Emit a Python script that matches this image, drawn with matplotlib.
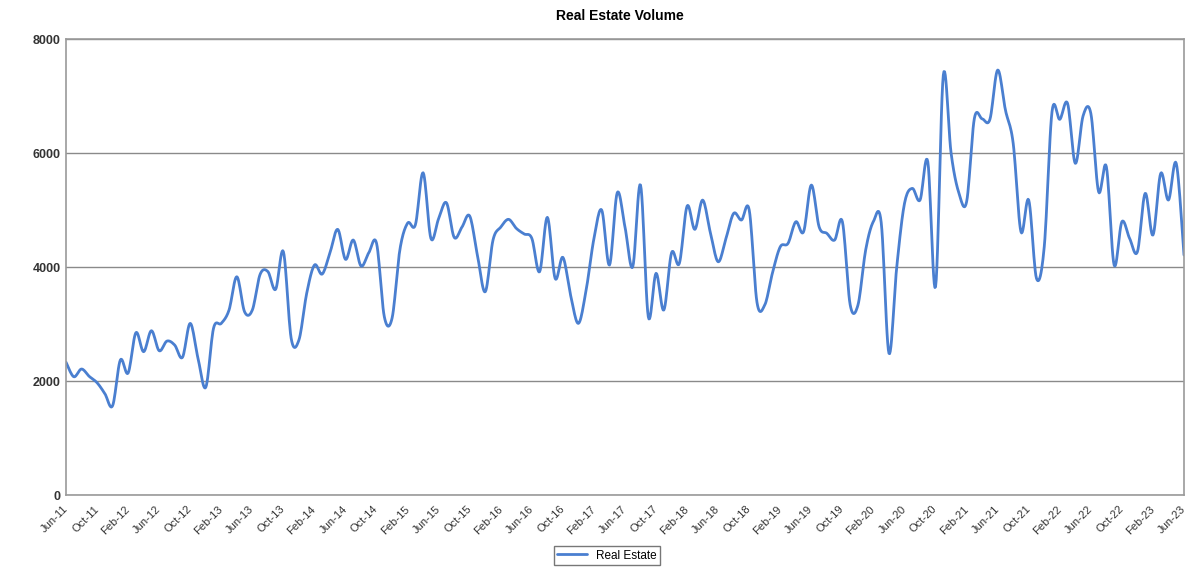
import matplotlib
matplotlib.use('Agg')
import matplotlib.pyplot as plt
import numpy as np

plt.rcParams['font.family'] = ['Liberation Sans', 'DejaVu Sans']

# Monthly volume, Jun-11 .. Jun-23
volume = [
    2330, 2075, 2210, 2080, 1970, 1780, 1566, 2368, 2140, 2847,
    2514, 2882, 2531, 2700, 2630, 2415, 3011, 2400, 1889, 2924,
    3011, 3245, 3829, 3215, 3245, 3870, 3920, 3608, 4268, 2750,
    2719, 3537, 4034, 3876, 4250, 4660, 4134, 4473, 4017, 4250,
    4415, 3128, 3104, 4300, 4770, 4740, 5653, 4502, 4850, 5127,
    4520, 4700, 4894, 4200, 3566, 4473, 4700, 4836, 4678, 4580,
    4502, 3917, 4871, 3800, 4169, 3500, 3011, 3600, 4500, 4999,
    4034, 5303, 4700, 4005, 5438, 3128, 3889, 3245, 4250, 4064,
    5069, 4660, 5174, 4600, 4092, 4500, 4941, 4824, 4999, 3380,
    3333, 3900, 4355, 4415, 4794, 4618, 5438, 4706, 4590, 4473,
    4794, 3340, 3330, 4300, 4800, 4780, 2485, 4000, 5116, 5379,
    5174, 5847, 3654, 7367, 6000, 5300, 5145, 6607, 6600, 6590,
    7455, 6753, 6169, 4618, 5174, 3800, 4355, 6723, 6590, 6871,
    5818, 6650, 6695, 5320, 5759, 4034, 4794, 4500, 4268, 5292,
    4560, 5642, 5174, 5818, 4209,
]
month_names = ['Jan', 'Feb', 'Mar', 'Apr', 'May', 'Jun',
               'Jul', 'Aug', 'Sep', 'Oct', 'Nov', 'Dec']
tick_labels = []
for k in range(37):
    m = 5 + 4 * k  # months since Jan-11
    tick_labels.append(f"{month_names[m % 12]}-{11 + m // 12}")
y_ticks = [0, 2000, 4000, 6000, 8000]


def smooth(x, y, steps=12):
    # Catmull-Rom style bezier, similar to a spreadsheet "smoothed line"
    x = np.asarray(x, float)
    y = np.asarray(y, float)
    n = len(x)
    xs, ys = [], []
    t = np.linspace(0, 1, steps, endpoint=False)
    for i in range(n - 1):
        i0, i3 = max(i - 1, 0), min(i + 2, n - 1)
        p0, p1, p2, p3 = (np.array([x[j], y[j]]) for j in (i0, i, i + 1, i3))
        c1 = p1 + (p2 - p0) / 6
        c2 = p2 - (p3 - p1) / 6
        pts = (np.outer((1 - t) ** 3, p1) + np.outer(3 * (1 - t) ** 2 * t, c1)
               + np.outer(3 * (1 - t) * t ** 2, c2) + np.outer(t ** 3, p2))
        xs.extend(pts[:, 0])
        ys.extend(pts[:, 1])
    xs.append(x[-1])
    ys.append(y[-1])
    return np.array(xs), np.array(ys)


fig = plt.figure(figsize=(11.88, 5.71), dpi=100)
ax = fig.add_axes([66 / 1188, 76 / 571, 1118 / 1188, 456 / 571])

idx = np.arange(len(volume))
sx, sy = smooth(idx, volume)
ax.plot(sx, sy, color='#4a7fd0', lw=2, label='Real Estate', solid_capstyle='round')

ax.set_xlim(0, len(volume) - 1)
ax.set_ylim(0, 8000)
ax.set_yticks(y_ticks)
ax.set_yticklabels([str(v) for v in y_ticks], fontsize=9, fontweight='bold', color='#333333')
ax.set_xticks(idx[::4])
ax.set_xticklabels(tick_labels, rotation=45, ha='right', va='center',
                   rotation_mode='anchor', fontsize=8, color='#333333')
ax.tick_params(axis='x', length=0, pad=9)
ax.tick_params(axis='y', length=0, pad=4)
ax.yaxis.grid(True, color='#8a8a8a', lw=1)
ax.set_axisbelow(True)
for s in ax.spines.values():
    s.set_color('#9a9a9a')
    s.set_linewidth(1.2)

fig.suptitle('Real Estate Volume', x=0.522, y=0.985, fontsize=10, fontweight='bold')
fig.legend(loc='lower center', bbox_to_anchor=(0.511, 0.0), fontsize=8.5, frameon=True,
           fancybox=False, edgecolor='#555555', handlelength=2.5, borderpad=0.3)

plt.savefig('out.png', dpi=100)
plt.close()
